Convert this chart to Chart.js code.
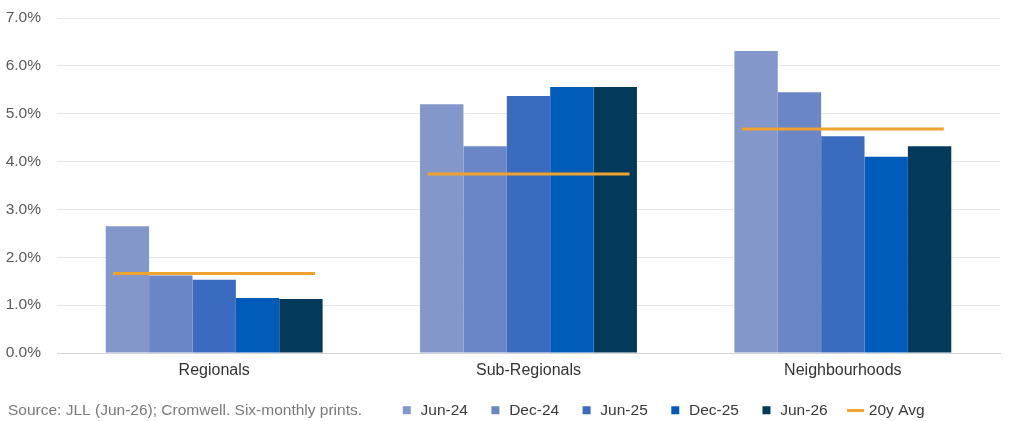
<!DOCTYPE html>
<html>
<head>
<meta charset="utf-8">
<script src="https://cdn.jsdelivr.net/npm/chart.js@4"></script>
<style>
	body { margin: 0; background: #fff; }
	#wrap { position: relative; width: 1024px; height: 421px; }
</style>
</head>
<body>
<div id="wrap"><canvas id="myChart"></canvas></div>
<script>
// values in %
const categories = ["Regionals", "Sub-Regionals", "Neighbourhoods"];
const seriesNames = ["Jun-24", "Dec-24", "Jun-25", "Dec-25", "Jun-26"];
const jun24 = [2.65, 5.2, 6.31];
const dec24 = [1.62, 4.32, 5.45];
const jun25 = [1.53, 5.37, 4.53];
const dec25 = [1.15, 5.56, 4.1];
const jun26 = [1.13, 5.56, 4.32];
const avg20y = [1.66, 3.74, 4.68];
const yTicks = [0, 1, 2, 3, 4, 5, 6, 7];
const sourceNote = "Source: JLL (Jun-26); Cromwell. Six-monthly prints.";

const colors = ["#8497cb", "#6a86c6", "#3b6bbf", "#005cb8", "#033a5c"];
const avgColor = "#f0a22e";
const fontFamily = "'Liberation Sans', Arial, sans-serif";

window.addEventListener("load", setup);

function setup() {
	const ctx = document.getElementById("myChart").getContext("2d");

	// small orange dash for the legend
	const dash = document.createElement("canvas");
	dash.width = 17;
	dash.height = 3;
	const dctx = dash.getContext("2d");
	dctx.fillStyle = avgColor;
	dctx.fillRect(0, 0, 17, 3);

	const series = [jun24, dec24, jun25, dec25, jun26];
	const datasets = series.map((vals, i) => ({
		type: "bar",
		label: seriesNames[i],
		data: vals,
		backgroundColor: colors[i],
		borderWidth: 0,
		categoryPercentage: 0.69,
		barPercentage: 1,
		order: 1,
	}));
	datasets.push({
		type: "line",
		label: "20y Avg",
		data: avg20y,
		showLine: false,
		pointStyle: "line",
		pointRadius: 101,
		pointHoverRadius: 101,
		pointBorderWidth: 3,
		pointBorderColor: avgColor,
		borderColor: avgColor,
		order: 0,
	});

	new Chart(ctx, {
		data: { labels: categories, datasets: datasets },
		options: {
			responsive: true,
			maintainAspectRatio: false,
			animation: false,
			layout: {
				autoPadding: false,
				padding: { left: -33.25, right: 24, top: 18, bottom: -7 },
			},
			plugins: {
				tooltip: { enabled: false },
				legend: {
					position: "bottom",
					align: "start",
					onClick: null,
					labels: {
						usePointStyle: true,
						boxWidth: 12,
						boxHeight: 8,
						padding: 21.5,
						font: { family: fontFamily, size: 15.5 },
						generateLabels: () => {
							const items = [{
								text: sourceNote + "    ",
								fillStyle: "rgba(0,0,0,0)",
								strokeStyle: "rgba(0,0,0,0)",
								lineWidth: 0,
								pointStyle: "rect",
								fontColor: "#7a7a7a",
							}];
							seriesNames.forEach((name, i) => {
								items.push({
									text: name,
									fillStyle: colors[i],
									strokeStyle: colors[i],
									lineWidth: 0,
									pointStyle: "rect",
									fontColor: "#3a3a3a",
									datasetIndex: i,
								});
							});
							items.push({
								text: "20y Avg",
								fillStyle: avgColor,
								strokeStyle: avgColor,
								lineWidth: 0,
								pointStyle: dash,
								fontColor: "#3a3a3a",
								datasetIndex: 5,
							});
							return items;
						},
					},
				},
			},
			scales: {
				x: {
					grid: { display: false, drawTicks: false },
					border: { display: true, color: "#d4d4d4", width: 1 },
					ticks: {
						padding: 8,
						color: "#333",
						font: { family: fontFamily, size: 16 },
					},
					afterFit: (scale) => { scale.height = 28; },
				},
				y: {
					min: 0,
					max: 7,
					afterBuildTicks: (scale) => {
						scale.ticks = yTicks.map((v) => ({ value: v }));
					},
					grid: { color: "#e6e6e6", drawTicks: false },
					border: { display: false },
					ticks: {
						padding: 16,
						color: "#595959",
						font: { family: fontFamily, size: 15.5 },
						callback: (v) => v.toFixed(1) + "%",
					},
					afterFit: (scale) => {
						scale.width = 90.25;
						scale.paddingTop = 0;
						scale.paddingBottom = 0;
					},
				},
			},
		},
	});
}
</script>
</body>
</html>
